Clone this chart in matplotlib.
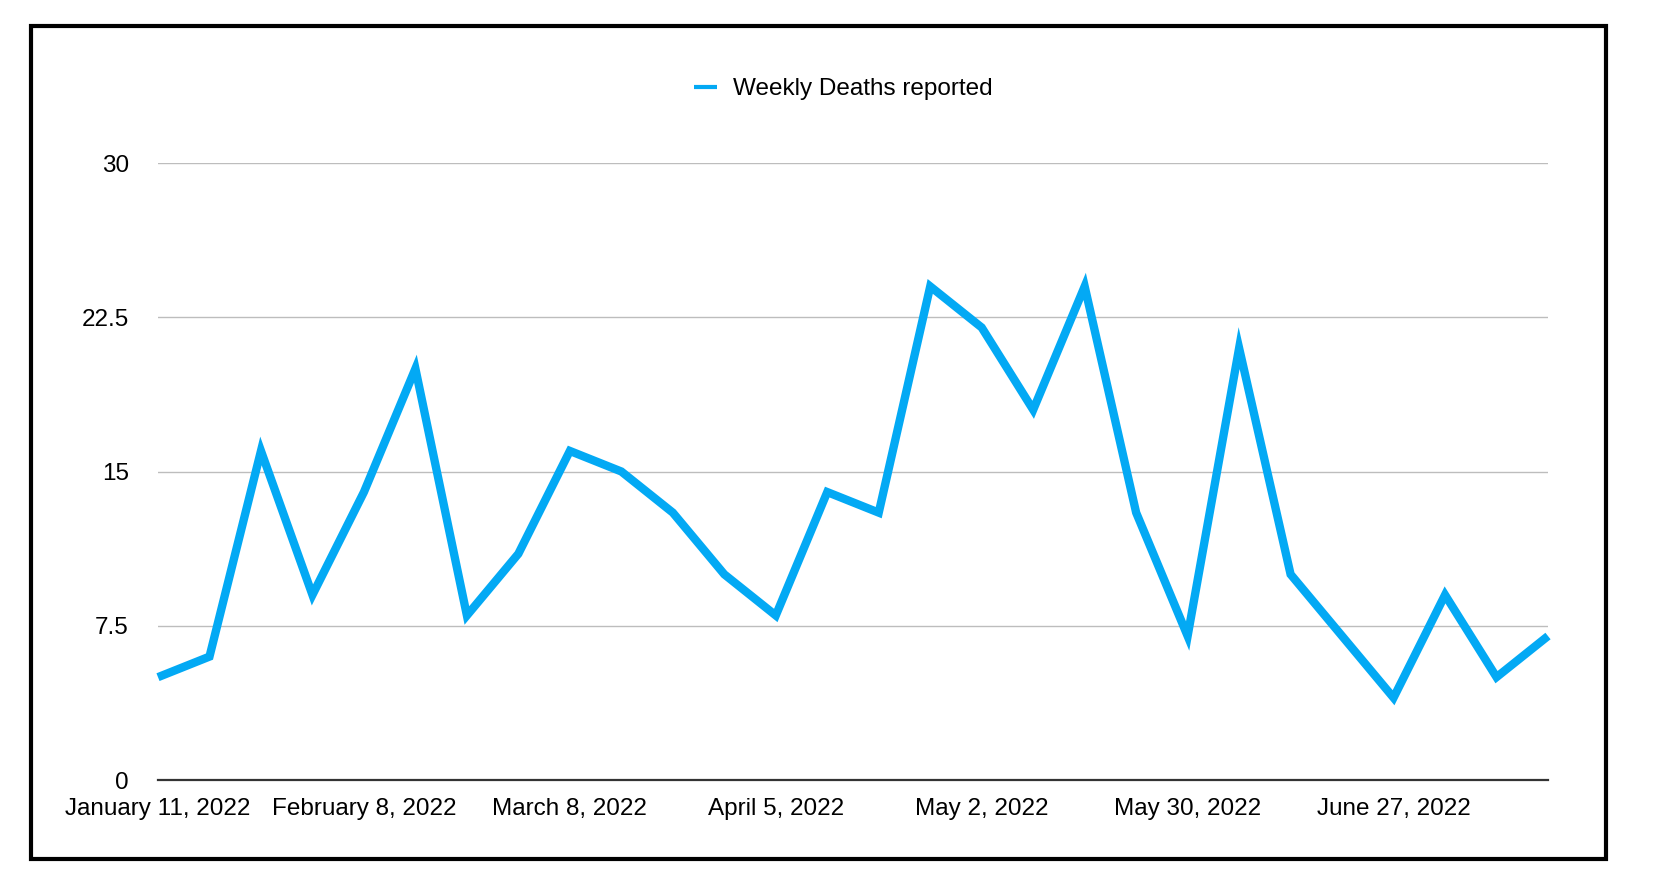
import matplotlib
matplotlib.use("Agg")
import matplotlib.pyplot as plt
from matplotlib.patches import Rectangle

plt.rcParams['font.family'] = ['Liberation Sans', 'DejaVu Sans']

# weekly deaths, one point per week starting January 11, 2022
weeks = list(range(28))
deaths = [5, 6, 16, 9, 14, 20, 8, 11, 16, 15, 13, 10, 8, 14, 13,
          24, 22, 18, 24, 13, 7, 21, 10, 7, 4, 9, 5, 7]
tick_pos = [0, 4, 8, 12, 16, 20, 24]
tick_labels = ["January 11, 2022", "February 8, 2022", "March 8, 2022",
               "April 5, 2022", "May 2, 2022", "May 30, 2022", "June 27, 2022"]
y_ticks = [0, 7.5, 15, 22.5, 30]
y_labels = ["0", "7.5", "15", "22.5", "30"]

fig = plt.figure(figsize=(16.6, 8.88), dpi=100)
ax = fig.add_axes([158/1660, 1-780/888, (1548-158)/1660, (780-163)/888])

ax.plot(weeks, deaths, color="#03A9F4", lw=6, solid_joinstyle='miter',
        solid_capstyle='butt', label="Weekly Deaths reported", clip_on=False)

ax.set_xlim(0, 27)
ax.set_ylim(0, 30)
ax.set_yticks(y_ticks)
ax.set_yticklabels(y_labels)
ax.set_xticks(tick_pos)
ax.set_xticklabels(tick_labels)
ax.tick_params(axis='y', length=0, pad=21, labelsize=17.5)
ax.tick_params(axis='x', length=0, pad=13, labelsize=17.5)
ax.grid(axis='y', color="#bdbdbd", lw=1)
ax.set_axisbelow(True)
for s in ["top", "right", "left"]:
    ax.spines[s].set_visible(False)
ax.spines["bottom"].set_color("#333333")
ax.spines["bottom"].set_linewidth(1.6)
ax.spines["bottom"].set_zorder(1)

leg = ax.legend(loc='center', bbox_to_anchor=(0.493, 1 + (163-89)/617), frameon=False,
                fontsize=17.5, handlelength=0.95, handletextpad=0.65)
for h in leg.get_lines():
    h.set_linewidth(3)

fig.patches.append(Rectangle((31/1660, 1-859/888), (1606-31)/1660, (859-26)/888,
                             transform=fig.transFigure, fill=False, lw=3, ec="black"))

fig.savefig("out.png", dpi=100)
